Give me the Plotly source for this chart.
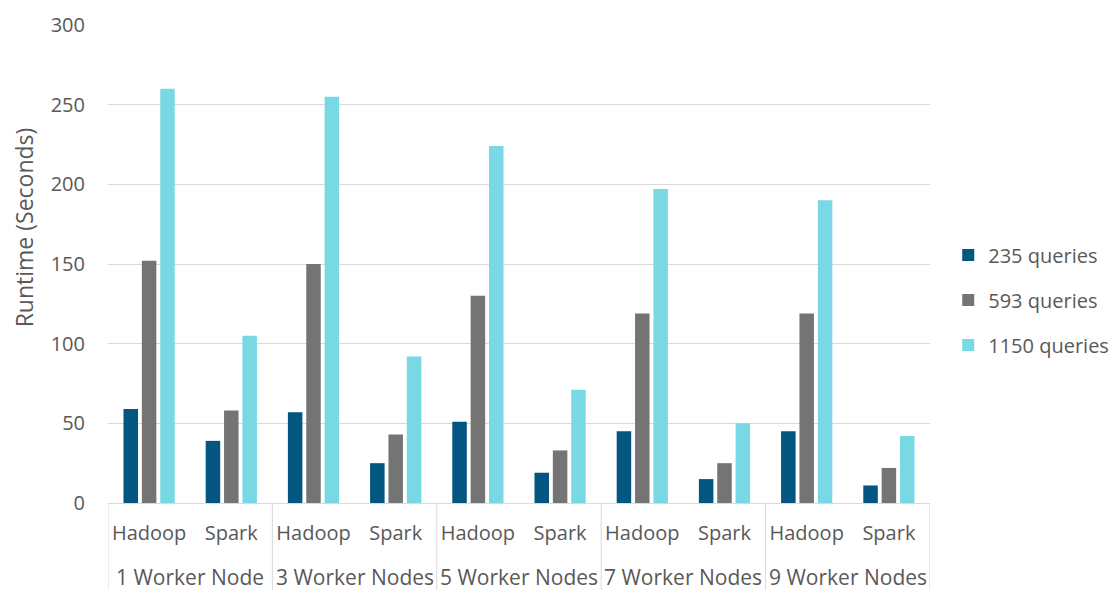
import plotly.graph_objects as go

groups = ["1 Worker Node", "3 Worker Nodes", "5 Worker Nodes", "7 Worker Nodes", "9 Worker Nodes"]
systems = ["Hadoop", "Spark"]
series_names = ["235 queries", "593 queries", "1150 queries"]
q235 = [59, 39, 57, 25, 51, 19, 45, 15, 45, 11]
q593 = [152, 58, 150, 43, 130, 33, 119, 25, 119, 22]
q1150 = [260, 105, 255, 92, 224, 71, 197, 50, 190, 42]
colors = ["#02567F", "#747474", "#78D9E5"]
y_ticks = [0, 50, 100, 150, 200, 250, 300]
y_title = "Runtime (Seconds)"

n_sys = len(systems)
inner = [s for _ in groups for s in systems]
xpos = list(range(len(inner)))

fig = go.Figure()
for name, vals, c in zip(series_names, [q235, q593, q1150], colors):
    fig.add_trace(go.Bar(x=xpos, y=vals, name=name, marker_color=c,
                         marker_line_width=0, legendgroup=name))

txt = "#595959"
line_c = "#D9D9D9"

# group dividers and group labels
for i, g in enumerate(groups):
    left = i * n_sys - 0.5
    fig.add_shape(type="line", xref="x", yref="paper", x0=left, x1=left, y0=0, y1=-0.25,
                  line=dict(color=line_c, width=1))
    fig.add_annotation(x=left + n_sys / 2, y=-0.155, xref="x", yref="paper", text=g,
                       showarrow=False, yanchor="middle", xanchor="center",
                       font=dict(size=21, color=txt))
right = len(groups) * n_sys - 0.5
fig.add_shape(type="line", xref="x", yref="paper", x0=right, x1=right, y0=0, y1=-0.25,
              line=dict(color=line_c, width=1))

# y axis title
fig.add_annotation(x=-0.102, y=0.577, xref="paper", yref="paper", text=y_title,
                   textangle=-90, showarrow=False, xanchor="center", yanchor="middle",
                   font=dict(size=23, color=txt))

fig.update_layout(
    width=1118, height=590,
    paper_bgcolor="white", plot_bgcolor="white",
    margin=dict(l=100, r=196, t=17, b=95),
    font=dict(family="Open Sans, Liberation Sans, sans-serif", size=20, color=txt),
    barmode="group", bargap=0.33, bargroupgap=0.21,
    legend=dict(xref="container", yref="container", x=0.841, y=0.505,
                xanchor="left", yanchor="middle",
                font=dict(size=20, color=txt), tracegroupgap=16,
                itemsizing="constant"),
    yaxis=dict(range=[0, 300], tickvals=y_ticks, showgrid=True, gridcolor=line_c,
               gridwidth=1, zeroline=False, showline=False, ticks="outside",
               tickcolor="rgba(0,0,0,0)", ticklen=18, automargin=False,
               tickfont=dict(size=20, color=txt)),
    xaxis=dict(range=[-0.5, len(inner) - 0.5], tickvals=xpos, ticktext=inner,
               showline=True, linecolor=line_c, linewidth=1, showgrid=False,
               zeroline=False, ticks="outside", tickcolor="rgba(0,0,0,0)", ticklen=12,
               automargin=False, tickfont=dict(size=20, color=txt)),
)
fig.write_html("out.html")
